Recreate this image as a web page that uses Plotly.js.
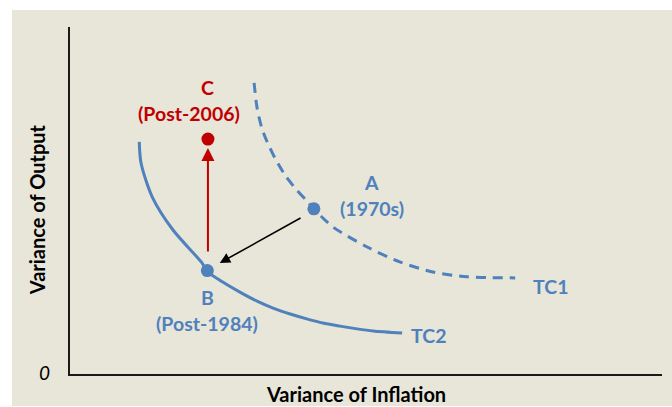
<!DOCTYPE html>
<html>
<head>
<meta charset="utf-8">
<script src="https://cdn.plot.ly/plotly-3.0.1.min.js"></script>
<style>
html,body{margin:0;padding:0;background:#ffffff;}
#chart{position:absolute;left:12px;top:10px;width:660px;height:396px;}
</style>
</head>
<body>
<div id="chart"></div>
<script>
// Trade-off curve TC1 (1970s)
var tc1X = [31.1, 31.6, 32.4, 33.3, 34.6, 36.3, 38.3, 40.0, 41.2, 44.4, 50.2, 55.7, 61.3, 67.1, 75.2];
var tc1Y = [83.9, 76.7, 70.9, 66.9, 62.3, 57.4, 53.0, 49.9, 47.6, 42.4, 36.6, 32.3, 29.4, 28.0, 27.7];
// Trade-off curve TC2 (Post-1984)
var tc2X = [11.7, 12.0, 13.9, 17.4, 22.3, 23.1, 25.8, 28.7, 31.6, 34.3, 37.2, 40.0, 42.7, 45.6, 48.5, 51.2, 56.1];
var tc2Y = [66.9, 60.8, 51.0, 41.5, 32.0, 29.7, 26.5, 23.6, 21.0, 19.0, 17.3, 15.9, 14.7, 13.8, 13.0, 12.4, 11.8];
// Points A, B, C
var ptNames = ['A', 'B', 'C'];
var ptX = [41.2, 23.2, 23.3];
var ptY = [47.6, 29.8, 67.7];
var ptPeriods = ['(1970s)', '(Post-1984)', '(Post-2006)'];
// Arrows: A -> B (black), B -> C (red)
var arrowFromX = [39.2, 23.3];
var arrowFromY = [45.2, 34.9];
var arrowToX = [25.3, 23.3];
var arrowToY = [32.0, 65.1];
// Curve labels
var curveNames = ['TC1', 'TC2'];
var curveLabelX = [81.1, 60.5];
var curveLabelY = [25.1, 11.0];

var BLUE = '#4F81BD', RED = '#C00000';
var FONT = "Lato, 'Open Sans', sans-serif";
var LBL = 19.5;

var traces = [
  {x: tc1X, y: tc1Y, mode: 'lines', line: {color: BLUE, width: 3, dash: '10px,7px', shape: 'spline', smoothing: 0.8}, hoverinfo: 'skip', name: 'TC1'},
  {x: tc2X, y: tc2Y, mode: 'lines', line: {color: BLUE, width: 3, shape: 'spline', smoothing: 0.8}, hoverinfo: 'skip', name: 'TC2'},
  {x: ptX.slice(0, 2), y: ptY.slice(0, 2), mode: 'markers', marker: {color: BLUE, size: 13}, name: 'A,B'},
  {x: ptX.slice(2), y: ptY.slice(2), mode: 'markers', marker: {color: RED, size: 13}, name: 'C'}
];

var ann = [];
// arrows
var arrowColors = ['#000000', RED];
var arrowWidths = [1.6, 2];
for (var i = 0; i < arrowFromX.length; i++) {
  ann.push({x: arrowToX[i], y: arrowToY[i], ax: arrowFromX[i], ay: arrowFromY[i],
    xref: 'x', yref: 'y', axref: 'x', ayref: 'y', text: '', showarrow: true,
    arrowhead: 2, arrowsize: 1.3, arrowwidth: arrowWidths[i], arrowcolor: arrowColors[i]});
}
// point labels (letter + period), offsets in pixels relative to each point
var labelColors = [BLUE, BLUE, RED];
var letterDX = [58, 0, 0], letterDY = [-26, 27, -52];
var periodDX = [58, 0, -19], periodDY = [0, 53, -26];
for (var j = 0; j < ptNames.length; j++) {
  ann.push({x: ptX[j], y: ptY[j], xref: 'x', yref: 'y', text: '<b>' + ptNames[j] + '</b>', showarrow: false,
    xshift: letterDX[j], yshift: -letterDY[j], font: {family: FONT, size: LBL, color: labelColors[j]}});
  ann.push({x: ptX[j], y: ptY[j], xref: 'x', yref: 'y', text: '<b>' + ptPeriods[j] + '</b>', showarrow: false,
    xshift: periodDX[j], yshift: -periodDY[j], font: {family: FONT, size: LBL, color: labelColors[j]}});
}
for (var k = 0; k < curveNames.length; k++) {
  ann.push({x: curveLabelX[k], y: curveLabelY[k], xref: 'x', yref: 'y', text: '<b>' + curveNames[k] + '</b>', showarrow: false,
    font: {family: FONT, size: LBL, color: BLUE}});
}
// origin label and axis titles
ann.push({x: 0, y: 0, xref: 'paper', yref: 'paper', xshift: -33, yshift: -12, text: '<i>0</i>', showarrow: false,
  font: {family: FONT, size: 19, color: '#000000'}});
ann.push({x: 0.483, y: 0, xref: 'paper', yref: 'paper', yshift: -34, text: '<b>Variance of Inflation</b>', showarrow: false,
  font: {family: FONT, size: 20, color: '#000000'}});
ann.push({x: 0, y: 0.472, xref: 'paper', yref: 'paper', xshift: -47, text: '<b>Variance of Output</b>', textangle: -90, showarrow: false,
  font: {family: FONT, size: 20, color: '#000000'}});

var layout = {
  width: 660, height: 396,
  paper_bgcolor: '#E8E5D9', plot_bgcolor: '#E8E5D9',
  margin: {l: 58, r: 10, t: 17, b: 32},
  showlegend: false,
  xaxis: {range: [0, 100], showgrid: false, zeroline: false, showticklabels: false, ticks: '',
    showline: true, linecolor: '#1a1a1a', linewidth: 2, fixedrange: true},
  yaxis: {range: [0, 100], showgrid: false, zeroline: false, showticklabels: false, ticks: '',
    showline: true, linecolor: '#1a1a1a', linewidth: 2, fixedrange: true},
  annotations: ann
};
Plotly.newPlot('chart', traces, layout, {staticPlot: true, displayModeBar: false});
</script>
</body>
</html>
